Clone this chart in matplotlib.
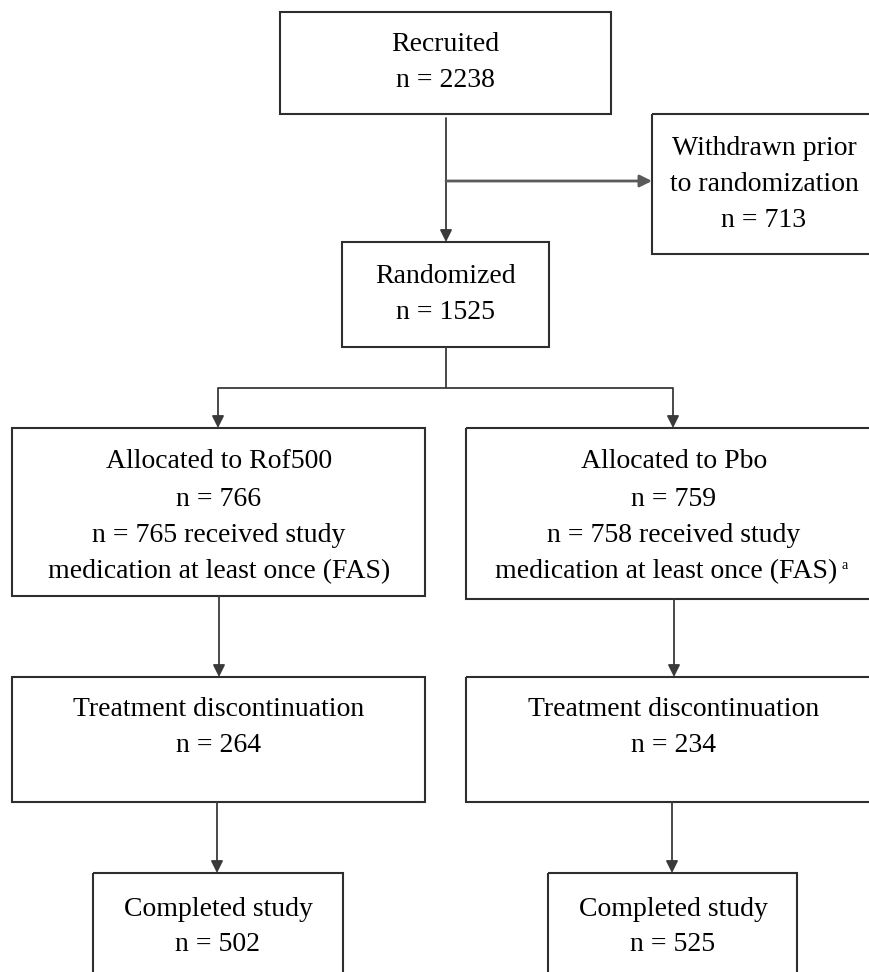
import matplotlib.pyplot as plt
from matplotlib.patches import Rectangle

# study numbers
n_recruited = 2238
n_withdrawn = 713
n_randomized = 1525
arm_names = ["Rof500", "Pbo"]
n_allocated = [766, 759]
n_received = [765, 758]
n_discontinued = [264, 234]
n_completed = [502, 525]

W, H = 870, 972
FONT = "Liberation Serif"
FS = 20
BOX_C = "#2e2e2e"
LINE_C = "#3a3a3a"


def box(ax, x0, y0, x1, y1):
    ax.add_patch(Rectangle((x0, y0), x1 - x0, y1 - y0, fill=False,
                           edgecolor=BOX_C, linewidth=1.5))


def lines_of_text(ax, x, ys, texts):
    # ys are the visual centres of each line, put baseline ~9px lower
    for y, t in zip(ys, texts):
        ax.text(x, y + 9, t, ha="center", va="baseline", fontsize=FS,
                family=FONT, color="black")


def arrow(ax, x0, y0, x1, y1, color=LINE_C, lw=1.3):
    ax.annotate("", xy=(x1, y1), xytext=(x0, y0),
                arrowprops=dict(arrowstyle="-|>", color=color, lw=lw,
                                mutation_scale=18, shrinkA=0, shrinkB=0))


def line(ax, xs, ys, color=LINE_C, lw=1.3):
    ax.plot(xs, ys, color=color, lw=lw, solid_capstyle="butt")


fig = plt.figure(figsize=(W / 100, H / 100), dpi=100)
ax = fig.add_axes([0, 0, 1, 1])
ax.set_xlim(0, W)
ax.set_ylim(H, 0)
ax.axis("off")

# top part
box(ax, 280, 12, 611, 114)
lines_of_text(ax, 445, [42, 78], ["Recruited", f"n = {n_recruited}"])

box(ax, 652, 114, 873, 254)
lines_of_text(ax, 764, [146, 182, 218],
              ["Withdrawn prior", "to randomization", f"n = {n_withdrawn}"])

box(ax, 342, 242, 549, 347)
lines_of_text(ax, 446, [274, 310], ["Randomized", f"n = {n_randomized}"])

arrow(ax, 446, 118, 446, 242)
arrow(ax, 446, 181, 652, 181, color="#5a5a5a", lw=2.0)

# split into two arms
line(ax, [446, 446], [347, 388])
line(ax, [218, 673], [388, 388])

arm_x = [218, 673]
alloc_box = [(12, 425, 596), (466, 873, 599)]
treat_box = [(12, 425), (466, 873)]
comp_box = [(93, 343), (548, 797)]

for i in range(2):
    cx = arm_x[i]
    arrow(ax, cx, 388, cx, 428)

    x0, x1, yb = alloc_box[i]
    box(ax, x0, 428, x1, yb)
    lines_of_text(ax, cx + 1, [459, 497, 533],
                  [f"Allocated to {arm_names[i]}", f"n = {n_allocated[i]}",
                   f"n = {n_received[i]} received study"])
    if i == 0:
        lines_of_text(ax, cx + 1, [569], ["medication at least once (FAS)"])
    else:
        lines_of_text(ax, cx - 7, [569], ["medication at least once (FAS)"])
        ax.text(842, 569, "a", ha="left", va="baseline", fontsize=10,
                family=FONT, color="black")

    arrow(ax, cx + 1, yb, cx + 1, 677)

    x0, x1 = treat_box[i]
    box(ax, x0, 677, x1, 802)
    lines_of_text(ax, cx + 1, [707, 743],
                  ["Treatment discontinuation", f"n = {n_discontinued[i]}"])

    arrow(ax, cx - 1, 802, cx - 1, 873)

    x0, x1 = comp_box[i]
    box(ax, x0, 873, x1, 985)
    lines_of_text(ax, cx, [907, 942],
                  ["Completed study", f"n = {n_completed[i]}"])

fig.savefig("out.png", dpi=100, facecolor="white")
